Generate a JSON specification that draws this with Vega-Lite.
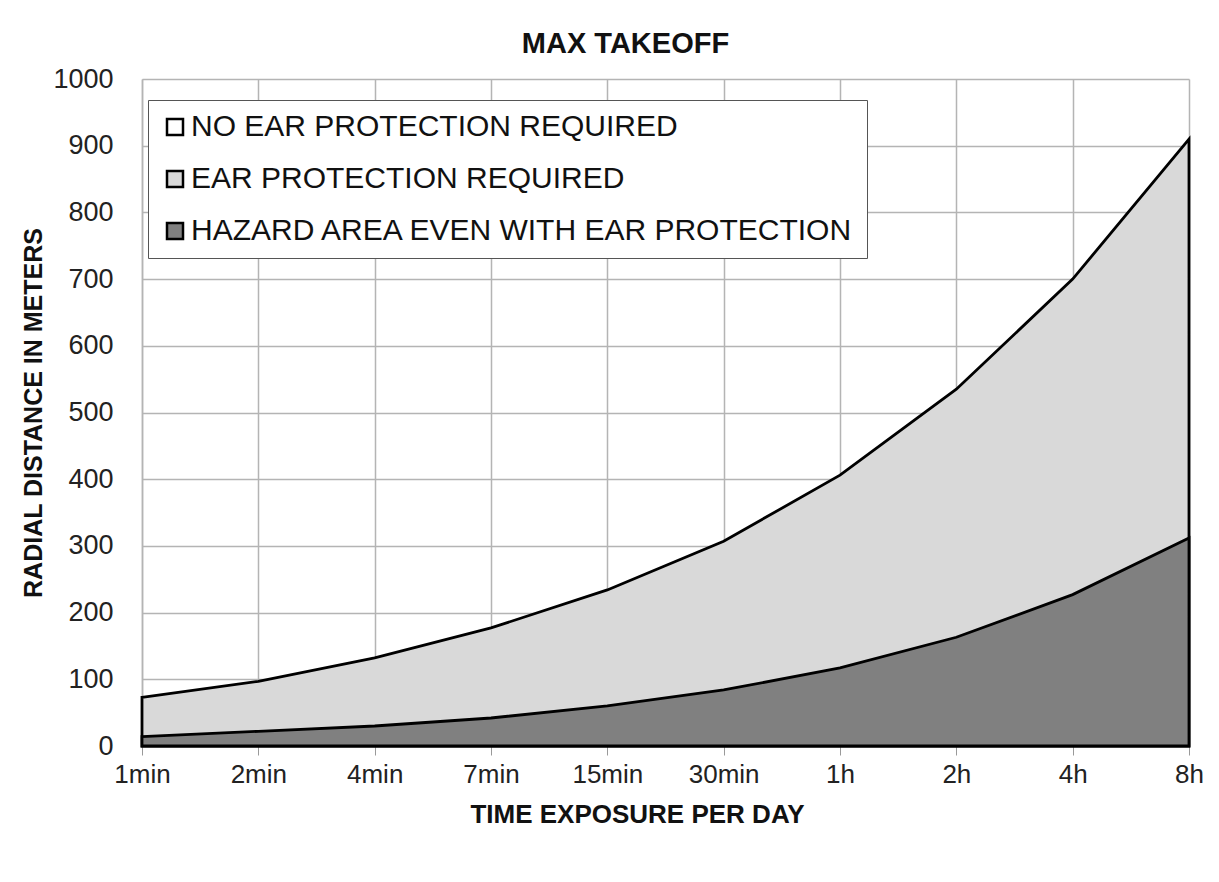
{
  "$schema": "https://vega.github.io/schema/vega-lite/v6.json",
  "autosize": {"type": "none"},
  "width": 1047,
  "height": 667,
  "padding": {"left": 142, "top": 79, "right": 30, "bottom": 136},
  "background": "white",
  "config": {
    "font": "Liberation Sans, Arial",
    "view": {"stroke": null}
  },
  "title": {
    "text": "MAX TAKEOFF",
    "fontSize": 29,
    "fontWeight": "bold",
    "color": "#111111",
    "anchor": "middle",
    "dx": -40,
    "offset": 6
  },
  "data": {
    "values": [
      {"time": "1min", "ear": 73, "hazard": 14},
      {"time": "2min", "ear": 97, "hazard": 22},
      {"time": "4min", "ear": 132, "hazard": 30},
      {"time": "7min", "ear": 177, "hazard": 42},
      {"time": "15min", "ear": 234, "hazard": 60},
      {"time": "30min", "ear": 307, "hazard": 84},
      {"time": "1h", "ear": 406, "hazard": 117},
      {"time": "2h", "ear": 535, "hazard": 163},
      {"time": "4h", "ear": 700, "hazard": 227},
      {"time": "8h", "ear": 910, "hazard": 312}
    ]
  },
  "encoding": {
    "x": {
      "field": "time",
      "type": "ordinal",
      "sort": null,
      "scale": {"type": "point", "padding": 0},
      "axis": {
        "title": "TIME EXPOSURE PER DAY",
        "titleFontSize": 26,
        "titleFontWeight": "bold",
        "titleColor": "#111111",
        "titlePadding": 14,
        "titleX": 495,
        "titleAlign": "center",
        "labelAngle": 0,
        "labelFontSize": 26,
        "labelColor": "#222222",
        "labelPadding": 6,
        "tickSize": 9,
        "tickColor": "#999999",
        "domainColor": "#999999",
        "grid": true,
        "gridColor": "#b4b4b4",
        "gridWidth": 1.5
      }
    }
  },
  "layer": [
    {
      "mark": {"type": "area", "stroke": "black", "strokeWidth": 2.8, "fillOpacity": 1, "opacity": 1},
      "encoding": {
        "y": {
          "field": "ear",
          "type": "quantitative",
          "scale": {"domain": [0, 1000], "nice": false},
          "axis": {
            "title": "RADIAL DISTANCE IN METERS",
            "titleFontSize": 25,
            "titleFontWeight": "bold",
            "titleColor": "#111111",
            "titlePadding": 6,
            "values": [0, 100, 200, 300, 400, 500, 600, 700, 800, 900, 1000],
            "format": "d",
            "labelFontSize": 27,
            "labelColor": "#222222",
            "labelPadding": 29,
            "ticks": false,
            "domainColor": "#b4b4b4",
            "domainWidth": 1.5,
            "grid": true,
            "gridColor": "#b4b4b4",
            "gridWidth": 1.5
          }
        },
        "fill": {
          "datum": "EAR PROTECTION REQUIRED",
          "type": "nominal",
          "scale": {
            "domain": ["NO EAR PROTECTION REQUIRED", "EAR PROTECTION REQUIRED", "HAZARD AREA EVEN WITH EAR PROTECTION"],
            "range": ["#ffffff", "#d9d9d9", "#808080"]
          },
          "legend": {
            "title": null,
            "orient": "none",
            "legendX": 6,
            "legendY": 21,
            "direction": "vertical",
            "symbolType": "square",
            "symbolSize": 256,
            "symbolStrokeColor": "#111111",
            "symbolStrokeWidth": 2.5,
            "symbolOpacity": 1,
            "labelFontSize": 30,
            "labelColor": "#111111",
            "labelLimit": 800,
            "labelOffset": 1,
            "rowPadding": 22,
            "padding": 12,
            "strokeColor": "#555555",
            "fillColor": "white"
          }
        }
      }
    },
    {
      "mark": {"type": "area", "stroke": "black", "strokeWidth": 2.8, "fillOpacity": 1, "opacity": 1},
      "encoding": {
        "y": {"field": "hazard", "type": "quantitative"},
        "fill": {"datum": "HAZARD AREA EVEN WITH EAR PROTECTION", "type": "nominal"}
      }
    }
  ]
}
